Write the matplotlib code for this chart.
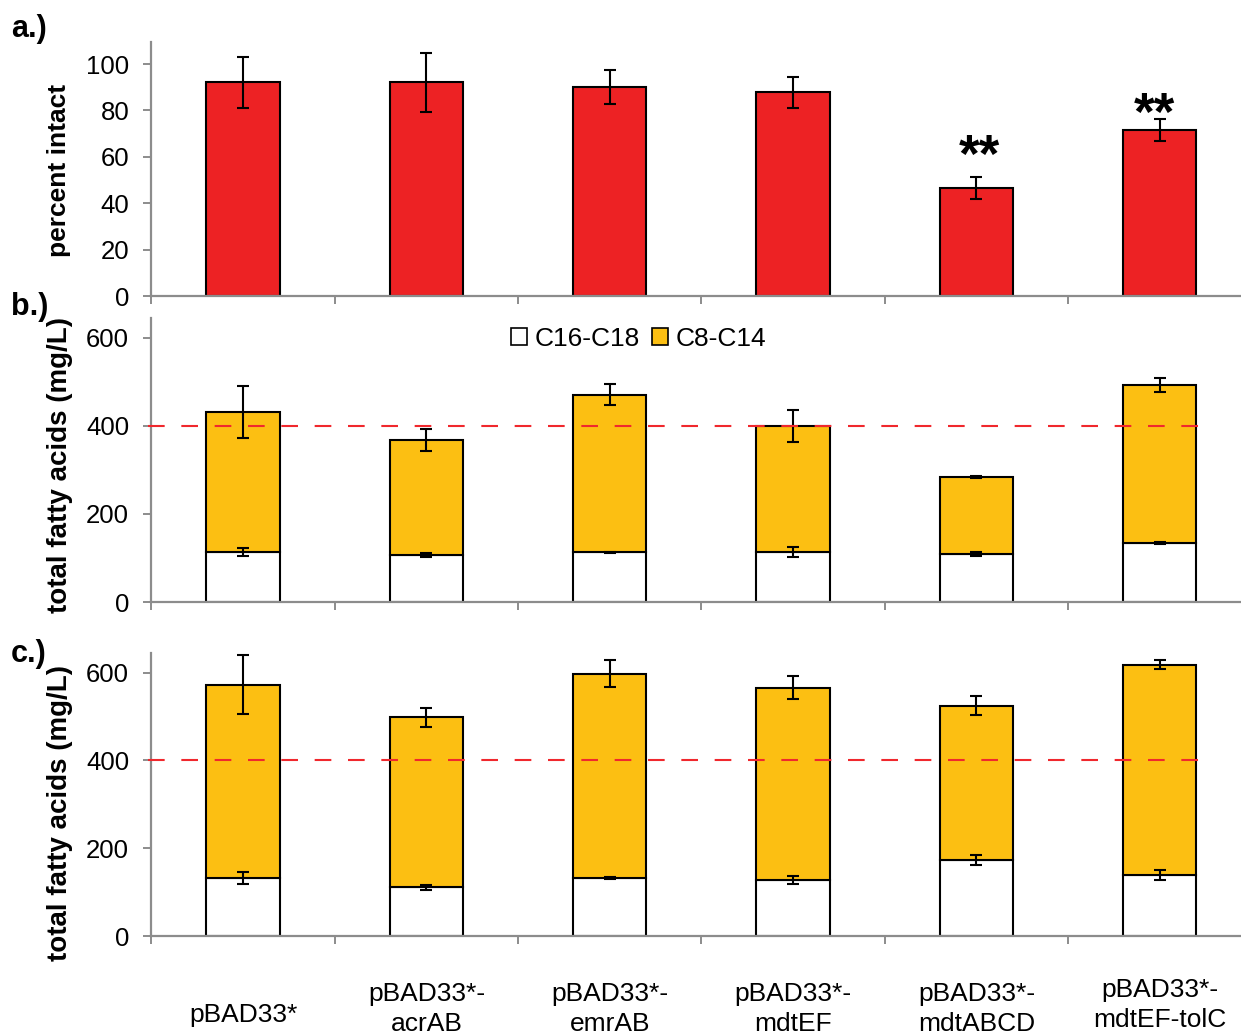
import matplotlib
matplotlib.use("Agg")
import matplotlib.pyplot as plt
import numpy as np
from matplotlib.patches import Patch
import matplotlib.transforms as mtransforms

plt.rcParams['font.family'] = ['Liberation Sans', 'DejaVu Sans']

# ---- data ----
strains = ["pBAD33*", "pBAD33*-\nacrAB", "pBAD33*-\nemrAB", "pBAD33*-\nmdtEF",
           "pBAD33*-\nmdtABCD", "pBAD33*-\nmdtEF-tolC"]

intact = [92.2, 92.2, 90.1, 87.9, 46.6, 71.6]
intact_err = [11.0, 12.7, 7.3, 6.7, 4.7, 4.7]
signif = ["", "", "", "", "**", "**"]

# panel b
b_long = [113, 107, 113, 113, 109, 134]        # C16-C18
b_total = [432, 368, 471, 400, 284, 493]       # C8-C14 stacked on top
b_long_err = [9, 5, 1, 11, 4, 3]
b_total_err = [59, 26, 24, 36, 2, 16]

# panel c
c_long = [132, 111, 132, 127, 173, 139]
c_total = [573, 498, 598, 566, 525, 618]
c_long_err = [13, 6, 3, 9, 11, 11]
c_total_err = [68, 21, 30, 26, 21, 10]

threshold = 400

# ---- style ----
RED = "#ED2224"
GOLD = "#FCBF12"
GREY = "#8C8C8C"
DASH_RED = "#F0282D"

W, H = 1241, 1033
fig = plt.figure(figsize=(W / 100, H / 100), dpi=100)


def axes_px(left, top, right, bottom):
    return fig.add_axes([left / W, 1 - bottom / H, (right - left) / W, (bottom - top) / H])


ax_a = axes_px(151.4, 42, 1251.4, 296)
ax_b = axes_px(151.4, 318, 1251.4, 602)
ax_c = axes_px(151.4, 653, 1251.4, 936)

x = np.arange(len(strains))
bw = 0.40
err_kw = dict(ecolor="black", elinewidth=1.5, capsize=4.4, capthick=1.5)


def style_axes(ax, ymax, yticks):
    ax.set_xlim(-0.5, len(strains) - 0.5)
    ax.set_ylim(0, ymax)
    for s in ("top", "right"):
        ax.spines[s].set_visible(False)
    for s in ("left", "bottom"):
        ax.spines[s].set_color(GREY)
        ax.spines[s].set_linewidth(1.6)
    ax.set_yticks(yticks)
    ax.set_xticks(np.arange(len(strains) + 1) - 0.5)
    ax.set_xticklabels([])
    ax.tick_params(axis="y", direction="out", length=6, width=1.4, color=GREY,
                   labelsize=18.5, pad=10)
    ax.tick_params(axis="x", direction="out", length=6, width=1.4, color=GREY)


# ---- a.) percent intact ----
ax_a.bar(x, intact, bw, color=RED, edgecolor="black", linewidth=1.5,
         yerr=intact_err, error_kw=err_kw, zorder=2)
style_axes(ax_a, 109.5, [0, 20, 40, 60, 80, 100])
ax_a.set_ylabel("percent intact", fontsize=19, fontweight="bold")
ax_a.yaxis.set_label_coords(-0.073, 0.496)
star_y = [0, 0, 0, 0, 53.5, 71.5]
star_dx = [0, 0, 0, 0, 3, -5]
for i, s in enumerate(signif):
    if s:
        off = mtransforms.offset_copy(ax_a.transData, fig=fig, x=star_dx[i], y=0, units="dots")
        ax_a.text(x[i], star_y[i], s, ha="center", va="baseline", fontsize=38,
                  fontweight="bold", transform=off)


# ---- b.) and c.) total fatty acids ----
def stacked(ax, long_v, total_v, long_e, total_e):
    long_v = np.array(long_v)
    total_v = np.array(total_v)
    ax.bar(x, long_v, bw, color="white", edgecolor="black", linewidth=1.5, zorder=2,
           label="C16-C18")
    ax.bar(x, total_v - long_v, bw, bottom=long_v, color=GOLD, edgecolor="black",
           linewidth=1.5, zorder=2, label="C8-C14")
    ax.errorbar(x, long_v, yerr=long_e, fmt="none", zorder=3, **err_kw)
    ax.errorbar(x, total_v, yerr=total_e, fmt="none", zorder=3, **err_kw)
    ax.plot([-0.52, 5.29], [threshold, threshold], color=DASH_RED, lw=1.5,
            linestyle=(0, (8, 8)), zorder=4, clip_on=False)
    style_axes(ax, 645, [0, 200, 400, 600])
    ax.set_ylabel("total fatty acids (mg/L)", fontsize=20, fontweight="bold")


stacked(ax_b, b_long, b_total, b_long_err, b_total_err)
ax_b.yaxis.set_label_coords(-0.071, 0.482)
stacked(ax_c, c_long, c_total, c_long_err, c_total_err)
ax_c.yaxis.set_label_coords(-0.071, 0.435)

handles = [Patch(facecolor="white", edgecolor="black", linewidth=1.2, label="C16-C18"),
           Patch(facecolor=GOLD, edgecolor="black", linewidth=1.2, label="C8-C14")]
fig.legend(handles=handles, loc="center", bbox_to_anchor=(639 / W, 1 - 339 / H), ncol=2,
           frameon=False, fontsize=19, handlelength=0.6, handleheight=0.6,
           handletextpad=0.3, columnspacing=0.45, borderpad=0)

# category labels under the bottom panel (baseline of the last line)
label_base_px = [1022, 1031, 1031, 1031, 1031, 1027]
for i, lab in enumerate(strains):
    tr = mtransforms.blended_transform_factory(ax_c.transData, fig.transFigure)
    ax_c.text(x[i], 1 - label_base_px[i] / H, lab, transform=tr, ha="center",
              va="baseline", fontsize=19, linespacing=1.3, clip_on=False)

# panel letters
for lab, ypx in (("a.)", 37), ("b.)", 315), ("c.)", 662)):
    fig.text(11 / W, 1 - ypx / H, lab, fontsize=22, fontweight="bold", va="baseline")

fig.savefig("out.png", dpi=100)
